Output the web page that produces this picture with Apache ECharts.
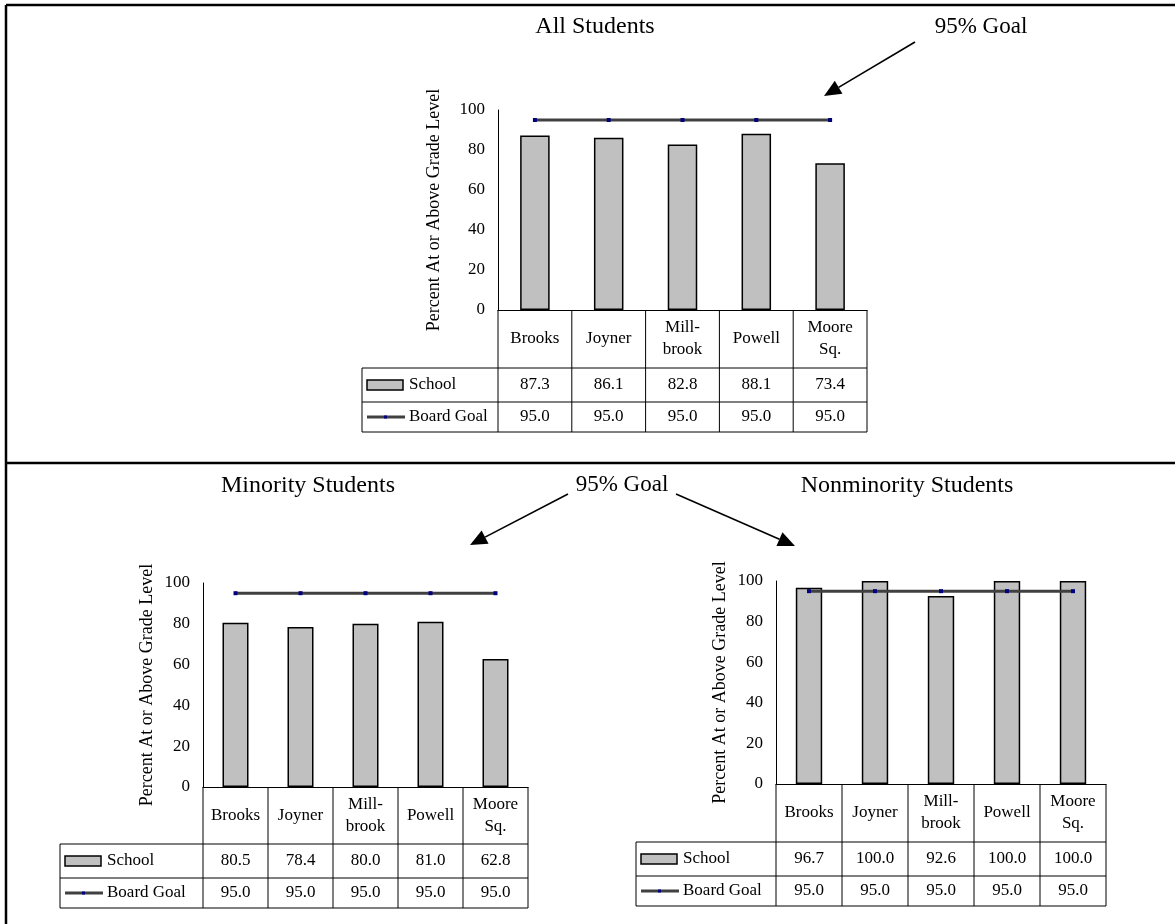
<!DOCTYPE html>
<html><head><meta charset="utf-8">
<script src="https://cdn.jsdelivr.net/npm/echarts@6/dist/echarts.min.js"></script>
<style>html,body{margin:0;padding:0;background:#fff}#c{width:1175px;height:924px}</style>
</head><body><div id="c"></div>
<script>
// ---- data ----
const schools = ['Brooks', 'Joyner', 'Mill-\nbrook', 'Powell', 'Moore\nSq.'];
const allStudents = [87.3, 86.1, 82.8, 88.1, 73.4];
const minorityStudents = [80.5, 78.4, 80.0, 81.0, 62.8];
const nonminorityStudents = [96.7, 100.0, 92.6, 100.0, 100.0];
const boardGoal = [95.0, 95.0, 95.0, 95.0, 95.0];
const panelTitles = ['All Students', 'Minority Students', 'Nonminority Students'];
const rowLabels = ['School', 'Board Goal'];
const yAxisTitle = 'Percent At or Above Grade Level';
const goalNote = '95% Goal';
const yMin = 0, yMax = 100, yStep = 20;

// ---- layout ----
const FONT = "'Liberation Serif','Times New Roman',serif";
const panels = [
  {values: allStudents, left: 498, top: 110, width: 369, height: 200, legendLeft: 362, rows: [58, 34, 30], titleX: 590, titleY: 22, nameGap: 55},
  {values: minorityStudents, left: 203, top: 583, width: 325, height: 204, legendLeft: 60, rows: [57, 34, 30], titleX: 303, titleY: 481, nameGap: 47},
  {values: nonminorityStudents, left: 776, top: 581, width: 330, height: 203, legendLeft: 636, rows: [58, 34, 30], titleX: 902, titleY: 481, nameGap: 47}
];

const grids = [], xAxes = [], yAxes = [], series = [], titles = [], graphics = [];
function ln(x1, y1, x2, y2, w, c) {
  return {type: 'line', silent: true, shape: {x1, y1, x2, y2}, style: {stroke: c || '#000', lineWidth: w || 1}};
}
function txt(x, y, text, size, align) {
  return {type: 'text', silent: true, x, y, style: {text, font: size + 'px ' + FONT, fill: '#000', align: align || 'center', verticalAlign: 'middle'}};
}
function arrow(x1, y1, x2, y2) {
  const a = Math.atan2(y2 - y1, x2 - x1), L = 17, W = 7.5;
  const bx = x2 - L * Math.cos(a), by = y2 - L * Math.sin(a);
  const px = -Math.sin(a) * W, py = Math.cos(a) * W;
  return [
    {type: 'line', silent: true, shape: {x1, y1, x2: bx, y2: by}, style: {stroke: '#000', lineWidth: 1.6}},
    {type: 'polygon', silent: true, shape: {points: [[x2, y2], [bx + px, by + py], [bx - px, by - py]]}, style: {fill: '#000'}}
  ];
}

panels.forEach((p, i) => {
  grids.push({left: p.left, top: p.top, width: p.width, height: p.height});
  xAxes.push({
    type: 'category', gridIndex: i, data: schools,
    axisLine: {lineStyle: {color: '#000', width: 1}},
    axisTick: {show: false},
    axisLabel: {color: '#000', fontFamily: FONT, fontSize: 17, lineHeight: 22, margin: p.rows[0] / 2, verticalAlign: 'middle', interval: 0}
  });
  yAxes.push({
    type: 'value', gridIndex: i, min: yMin, max: yMax, interval: yStep,
    name: yAxisTitle, nameLocation: 'middle', nameGap: p.nameGap, nameRotate: 90,
    nameTextStyle: {color: '#000', fontFamily: FONT, fontSize: 18},
    axisLine: {show: true, lineStyle: {color: '#000', width: 1}},
    axisTick: {show: false}, splitLine: {show: false},
    axisLabel: {color: '#000', fontFamily: FONT, fontSize: 17, margin: 13}
  });
  series.push({
    type: 'bar', name: rowLabels[0], xAxisIndex: i, yAxisIndex: i, data: p.values, barWidth: '40%',
    itemStyle: {color: '#c0c0c0', borderColor: '#000', borderWidth: 1.5}, silent: true
  });
  series.push({
    type: 'line', name: rowLabels[1], xAxisIndex: i, yAxisIndex: i, data: boardGoal,
    symbol: 'rect', symbolSize: 4, itemStyle: {color: '#000080'},
    lineStyle: {color: '#404040', width: 3}, silent: true, z: 5
  });
  titles.push({text: panelTitles[i], left: p.titleX, top: p.titleY, textAlign: 'center', textVerticalAlign: 'middle',
    textStyle: {fontFamily: FONT, fontSize: 24, fontWeight: 'normal', color: '#000'}});

  // data table below the plot
  const n = schools.length, cw = p.width / n;
  const y0 = p.top + p.height, y1 = y0 + p.rows[0], y2 = y1 + p.rows[1], y3 = y2 + p.rows[2];
  const right = p.left + p.width;
  graphics.push(ln(p.legendLeft, y1, right, y1), ln(p.legendLeft, y2, right, y2), ln(p.legendLeft, y3, right, y3));
  graphics.push(ln(p.legendLeft, y1, p.legendLeft, y3));
  for (let k = 0; k <= n; k++) graphics.push(ln(p.left + k * cw, y0, p.left + k * cw, y3));
  p.values.forEach((v, k) => graphics.push(txt(p.left + (k + 0.5) * cw, (y1 + y2) / 2, v.toFixed(1), 17)));
  boardGoal.forEach((v, k) => graphics.push(txt(p.left + (k + 0.5) * cw, (y2 + y3) / 2, v.toFixed(1), 17)));
  // legend keys
  const sx = p.legendLeft + 5;
  graphics.push({type: 'rect', silent: true, shape: {x: sx, y: (y1 + y2) / 2 - 5, width: 36, height: 10},
    style: {fill: '#c0c0c0', stroke: '#000', lineWidth: 1.5}});
  graphics.push(txt(sx + 42, (y1 + y2) / 2, rowLabels[0], 17, 'left'));
  graphics.push(ln(sx, (y2 + y3) / 2, sx + 38, (y2 + y3) / 2, 3, '#404040'));
  graphics.push({type: 'rect', silent: true, shape: {x: sx + 17, y: (y2 + y3) / 2 - 1.5, width: 3, height: 3}, style: {fill: '#000080'}});
  graphics.push(txt(sx + 42, (y2 + y3) / 2, rowLabels[1], 17, 'left'));
});

// frame
graphics.push(ln(6, 5, 1175, 5, 2.5), ln(6, 5, 6, 924, 2.5), ln(6, 463, 1175, 463, 2.5));
// goal annotations
graphics.push(txt(981, 27, goalNote, 23));
graphics.push(...arrow(915, 42, 824, 96));
graphics.push(txt(622, 485, goalNote, 23));
graphics.push(...arrow(568, 494, 470, 545));
graphics.push(...arrow(676, 494, 795, 546));

const chart = echarts.init(document.getElementById('c'), null, {renderer: 'canvas'});
chart.setOption({
  animation: false,
  backgroundColor: '#fff',
  title: titles,
  grid: grids, xAxis: xAxes, yAxis: yAxes, series,
  graphic: graphics
});
</script></body></html>
